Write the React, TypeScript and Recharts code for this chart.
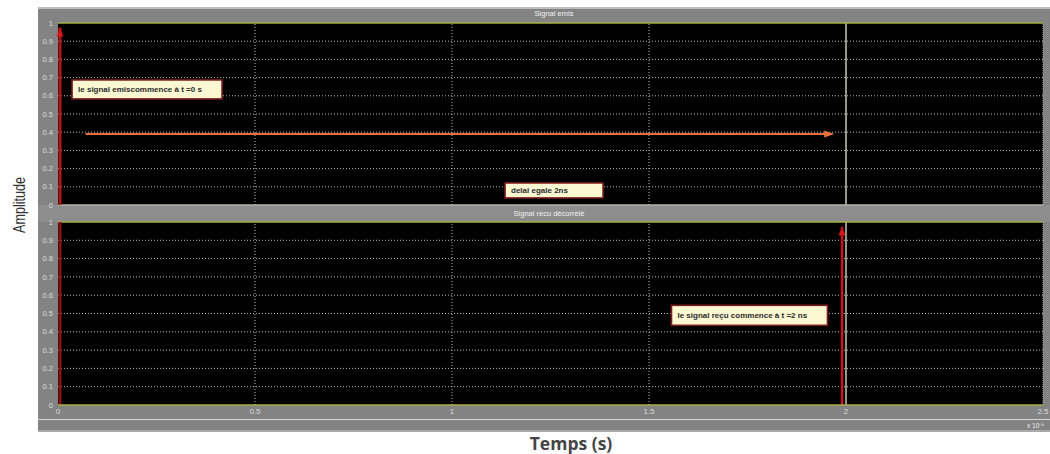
import { LineChart, Line, XAxis, YAxis, CartesianGrid, ReferenceLine, ReferenceDot } from 'recharts'

const timeTicks = [0, 0.5, 1, 1.5, 2, 2.5]
const ampTicks = [0, 0.1, 0.2, 0.3, 0.4, 0.5, 0.6, 0.7, 0.8, 0.9, 1]
const gridTimes = [0.5, 1, 1.5]

// signal emis : front a t = 0
const emisTime = [0.005, 0.005]
const emisAmp = [0, 0.975]
// fleche du delai (t = 0 -> t = 2)
const delaiTime = [0.07, 1.965]
const delaiAmp = [0.39, 0.39]
// signal recu : front a t = 2 ns
const recuTime = [1.99, 1.99]
const recuAmp = [0, 0.975]
const recuBordTime = [0.005, 0.005]
const recuBordAmp = [0, 1]

// annotations (t, amplitude, texte)
const noteEmis = { t: 0.226, a: 0.635, text: 'le signal  emiscommence à t =0 s', w: 150, h: 19 }
const noteDelai = { t: 1.259, a: 0.08, text: 'delai egale 2ns', w: 98, h: 15 }
const noteRecu = { t: 1.755, a: 0.49, text: 'le signal  reçu commence à t =2 ns', w: 156, h: 20 }

const toPoints = (ts: number[], vs: number[]) => ts.map((t, i) => ({ t, v: vs[i] }))

const FONT = '"Liberation Sans", Arial, sans-serif'
const OLIVE = '#a8ae4a'
const GRID = '#b8b8b8'

const arrowUp = (color: string) => (p: any) =>
  p.index === 1 ? (
    <path key={`a${p.index}`} d={`M${p.cx},${p.cy} l-3.5,9 l7,0 z`} fill={color} />
  ) : (
    <g key={`a${p.index}`} />
  )

const arrowRight = (color: string) => (p: any) =>
  p.index === 1 ? (
    <path key={`a${p.index}`} d={`M${p.cx + 2},${p.cy} l-10,-3.5 l0,7 z`} fill={color} />
  ) : (
    <g key={`a${p.index}`} />
  )

function Note({ cx, cy, w, h, text }: any) {
  return (
    <g>
      <rect x={cx - w / 2} y={cy - h / 2} width={w} height={h} fill="#fbf8d2" stroke="#7a1c1c" strokeWidth={1.6} />
      <text x={cx - w / 2 + 6} y={cy + 3} fontSize={8} fontWeight="bold" fill="#2a2a2a" fontFamily={FONT}>
        {text}
      </text>
    </g>
  )
}

const yTick = { fill: '#dcdcdc', fontSize: 7.5, fontFamily: FONT }

export default function App() {
  const noteShape = (n: any) => (p: any) => <Note cx={p.cx} cy={p.cy} w={n.w} h={n.h} text={n.text} />

  return (
    <div style={{ position: 'absolute', left: 0, top: 0, width: 1050, height: 454, background: '#fff', overflow: 'hidden', fontFamily: FONT }}>
      {/* cadre gris de la fenetre */}
      <div style={{ position: 'absolute', left: 38, top: 7, width: 1012, height: 425, background: '#838383' }} />
      <div style={{ position: 'absolute', left: 38, top: 7, width: 1012, height: 2, background: '#bdbdbd' }} />
      <div style={{ position: 'absolute', left: 38, top: 205, width: 1012, height: 17, background: '#8d8d8d' }} />
      <div style={{ position: 'absolute', left: 38, top: 419, width: 1012, height: 1, background: '#d6d6d6' }} />
      <div style={{ position: 'absolute', left: 38, top: 430, width: 1012, height: 2, background: '#a9a9a9' }} />

      <div style={{ position: 'absolute', left: 38, top: 9, width: 1012, textAlign: 'center', color: '#f2f2f2', fontSize: 7.5 }}>
        <span style={{ position: 'relative', left: 10 }}>Signal emis</span>
      </div>
      <div style={{ position: 'absolute', left: 38, top: 209, width: 1012, textAlign: 'center', color: '#f2f2f2', fontSize: 7.5 }}>
        <span style={{ position: 'relative', left: 5 }}>Signal recu décorrélé</span>
      </div>

      <div
        style={{
          position: 'absolute',
          left: 20,
          top: 205,
          transform: 'translate(-50%, -50%) rotate(-90deg) scaleX(0.74)',
          fontFamily: FONT,
          fontSize: 17,
          color: '#333',
          whiteSpace: 'nowrap',
        }}
      >
        Amplitude
      </div>
      <div
        style={{
          position: 'absolute',
          left: 571,
          top: 443,
          transform: 'translate(-50%, -50%)',
          fontFamily: '"Open Sans", sans-serif',
          fontWeight: 700,
          fontSize: 17.5,
          color: '#454545',
          whiteSpace: 'nowrap',
        }}
      >
        Temps (s)
      </div>
      <div style={{ position: 'absolute', left: 1027, top: 421, fontSize: 6.5, color: '#eee' }}>x 10⁻⁹</div>

      {/* graphe du haut : signal emis */}
      <div style={{ position: 'absolute', left: 38, top: 7 }}>
        <LineChart width={1012} height={206} margin={{ top: 16, right: 7, bottom: 8, left: 0 }}>
          <CartesianGrid fill="#000" vertical={false} stroke={GRID} strokeDasharray="1 2" horizontalValues={ampTicks.slice(1, 10)} />
          <XAxis type="number" dataKey="t" domain={[0, 2.5]} ticks={timeTicks} hide />
          <YAxis
            type="number"
            domain={[0, 1]}
            ticks={ampTicks}
            width={20}
            tick={yTick}
            tickLine={false}
            tickSize={3}
            axisLine={false}
            interval={0}
          />
          {gridTimes.map((x) => (
            <ReferenceLine key={x} x={x} stroke={GRID} strokeDasharray="1 2" />
          ))}
          <ReferenceLine x={2} stroke="#c8c8b8" strokeWidth={1.5} />
          <ReferenceLine x={2.5} stroke="#9a9a9a" strokeDasharray="1 1" />
          <ReferenceLine y={1} stroke={OLIVE} strokeWidth={1.5} />
          <ReferenceLine y={0} stroke="#b4b4a8" strokeWidth={1.5} />
          <Line data={toPoints(emisTime, emisAmp)} dataKey="v" stroke="#b3141a" strokeWidth={3} dot={arrowUp('#d01818')} isAnimationActive={false} />
          <Line data={toPoints(delaiTime, delaiAmp)} dataKey="v" stroke="#e6733c" strokeWidth={2} dot={arrowRight('#e6733c')} isAnimationActive={false} />
          <ReferenceDot x={noteEmis.t} y={noteEmis.a} r={0} shape={noteShape(noteEmis)} />
          <ReferenceDot x={noteDelai.t} y={noteDelai.a} r={0} shape={noteShape(noteDelai)} />
        </LineChart>
      </div>

      {/* graphe du bas : signal recu */}
      <div style={{ position: 'absolute', left: 38, top: 205 }}>
        <LineChart width={1012} height={215} margin={{ top: 17, right: 7, bottom: 0, left: 0 }}>
          <CartesianGrid fill="#000" vertical={false} stroke={GRID} strokeDasharray="1 2" horizontalValues={ampTicks.slice(1, 10)} />
          <XAxis
            type="number"
            dataKey="t"
            domain={[0, 2.5]}
            ticks={timeTicks}
            interval={0}
            height={15}
            tick={{ fill: '#dcdcdc', fontSize: 8, fontFamily: FONT }}
            tickLine={false}
            tickSize={1}
            axisLine={{ stroke: OLIVE, strokeWidth: 1.5 }}
          />
          <YAxis
            type="number"
            domain={[0, 1]}
            ticks={ampTicks}
            width={20}
            tick={yTick}
            tickLine={false}
            tickSize={3}
            axisLine={false}
            interval={0}
          />
          {gridTimes.map((x) => (
            <ReferenceLine key={x} x={x} stroke={GRID} strokeDasharray="1 2" />
          ))}
          <ReferenceLine x={2} stroke="#c8c8b8" strokeWidth={1.5} />
          <ReferenceLine x={2.5} stroke="#9a9a9a" strokeDasharray="1 1" />
          <ReferenceLine y={1} stroke={OLIVE} strokeWidth={1.5} />
          <Line data={toPoints(recuBordTime, recuBordAmp)} dataKey="v" stroke="#8e1015" strokeWidth={3} dot={false} isAnimationActive={false} />
          <Line data={toPoints(recuTime, recuAmp)} dataKey="v" stroke="#c8161c" strokeWidth={2.5} dot={arrowUp('#d01818')} isAnimationActive={false} />
          <ReferenceDot x={noteRecu.t} y={noteRecu.a} r={0} shape={noteShape(noteRecu)} />
        </LineChart>
      </div>
    </div>
  )
}
